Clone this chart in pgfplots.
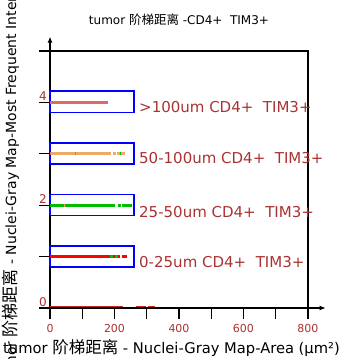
\documentclass[border=0pt]{standalone}
\usepackage{fontspec}
\setmainfont{DejaVu Sans}
\newfontfamily\cjk{Noto Sans CJK SC}
\usepackage{pgfplots}
\pgfplotsset{compat=1.18}
\usetikzlibrary{arrows.meta}
\definecolor{tickred}{RGB}{170,50,50}
\definecolor{salmon}{RGB}{224,104,104}
\definecolor{sandy}{RGB}{240,168,104}
\definecolor{grn}{RGB}{0,190,0}
\definecolor{rd}{RGB}{255,0,0}
\definecolor{drd}{RGB}{200,40,40}
\definecolor{bl}{RGB}{0,0,255}
\definecolor{pink}{RGB}{224,104,104}
\begin{document}
\begin{tikzpicture}
\begin{axis}[
  at={(0,0)}, anchor=origin,
  scale only axis, width=258bp, height=257bp,
  xmin=0, xmax=800, ymin=0, ymax=5,
  clip=false,
  axis line style={line width=1.2bp, black},
  every tick/.style={black, line width=1.2bp},
  tick align=outside,
  xtick pos=bottom, ytick pos=left,
  xtick={0,200,400,600,800},
  minor xtick={100,300,500,700},
  ytick={0,1,2,3,4,5}, yticklabels={},
  major tick length=11bp, minor tick length=11bp,
  /pgf/number format/assume math mode=true,
  xticklabel style={font=\fontsize{11bp}{13bp}\selectfont, text=tickred, yshift=-2bp},
  unbounded coords=jump,
]
% arrows on axes
\draw[line width=1.2bp, -{Latex[length=6bp,width=5bp]}] (axis cs:0,0) -- (axis cs:0,5.28);
\draw[line width=1.2bp, -{Latex[length=6bp,width=5bp]}] (axis cs:0,0) -- (axis cs:855,0);
% legend boxes
\addplot[draw=bl, line width=1.4bp] coordinates {(0,3.80) (260,3.80) (260,4.22) (0,4.22) (0,3.80)};
\addplot[draw=bl, line width=1.4bp] coordinates {(0,2.80) (260,2.80) (260,3.21) (0,3.21) (0,2.80)};
\addplot[draw=bl, line width=1.4bp] coordinates {(0,1.80) (260,1.80) (260,2.21) (0,2.21) (0,1.80)};
\addplot[draw=bl, line width=1.4bp] coordinates {(0,0.80) (260,0.80) (260,1.21) (0,1.21) (0,0.80)};
% level 4: >100um
\addplot[draw=salmon, line width=3bp] coordinates {(0,4) (180,4)};
% level 3: 50-100um
\addplot[draw=sandy, line width=3bp] coordinates {(0,3) (189,3) (192,nan) (195,3) (205,3) (206,nan) (208,3) (232,3)};
\addplot[draw=pink, line width=3bp] coordinates {(0,3) (3,3) (4,nan) (77,3) (80,3)};
\addplot[draw=grn, line width=3bp] coordinates {(217,3) (220,3)};
% level 2: 25-50um
\addplot[draw=grn, line width=3bp] coordinates {(0,2) (201,2) (205,nan) (211,2) (220,2) (222,nan) (224,2) (254,2)};
\addplot[draw=sandy, line width=3bp] coordinates {(43,2) (46,2)};
% level 1: 0-25um
\addplot[draw=rd, line width=3bp] coordinates {(0,1) (185,1) (190,nan) (195,1) (202,1) (206,nan) (210,1) (216,1) (219,nan) (223,1) (239,1)};
\addplot[draw=grn, line width=3bp] coordinates {(185,1) (195,1) (198,nan) (202,1) (210,1)};
% level 0
\addplot[draw=drd, line width=1.5bp] coordinates {(0,0.03) (225,0.03) (240,nan) (267,0.03) (298,0.03) (300,nan) (303,0.03) (326,0.03)};
% legend labels
\node[anchor=west, inner sep=0pt, text=tickred, font=\fontsize{15bp}{18bp}\selectfont, yshift=-5bp] at (axis cs:276,4) {>100um CD4+\ \ TIM3+};
\node[anchor=west, inner sep=0pt, text=tickred, font=\fontsize{15bp}{18bp}\selectfont, yshift=-4bp] at (axis cs:276,3) {50-100um CD4+\ \ TIM3+};
\node[anchor=west, inner sep=0pt, text=tickred, font=\fontsize{15bp}{18bp}\selectfont, yshift=-7bp] at (axis cs:276,2) {25-50um CD4+\ \ TIM3+};
\node[anchor=west, inner sep=0pt, text=tickred, font=\fontsize{15bp}{18bp}\selectfont, yshift=-5bp] at (axis cs:276,1) {0-25um CD4+\ \ TIM3+};
% y tick labels
\node[inner sep=0pt, text=tickred, font=\fontsize{12bp}{14bp}\selectfont, xshift=-7bp, yshift=6bp] at (axis cs:0,4) {4};
\node[inner sep=0pt, text=tickred, font=\fontsize{12bp}{14bp}\selectfont, xshift=-7bp, yshift=6bp] at (axis cs:0,2) {2};
\node[inner sep=0pt, text=tickred, font=\fontsize{12bp}{14bp}\selectfont, xshift=-7bp, yshift=6bp] at (axis cs:0,0) {0};
\end{axis}
% title
\node[anchor=base, inner sep=0pt, font=\fontsize{12bp}{14bp}\selectfont] at (129bp,283bp) {tumor {\cjk\fontsize{12.5bp}{14bp}\selectfont 阶梯距离} -CD4+\ \ TIM3+};
% x label
\node[anchor=base west, inner sep=0pt, font=\fontsize{14.7bp}{18bp}\selectfont] at (-47bp,-45bp) {tumor {\cjk\fontsize{16.5bp}{18bp}\selectfont 阶梯距离} - Nuclei-Gray Map-Area (μm²)};
% y label
\node[anchor=base west, inner sep=0pt, rotate=90, font=\fontsize{14bp}{16bp}\selectfont] at (-34bp,-76bp) {tumor {\cjk\fontsize{17bp}{18bp}\selectfont 阶梯距离} - Nuclei-Gray Map-Most Frequent Intensity};
\pgfresetboundingbox
\path[use as bounding box] (-50bp,-51bp) rectangle (309bp,308bp);
\end{tikzpicture}
\end{document}
